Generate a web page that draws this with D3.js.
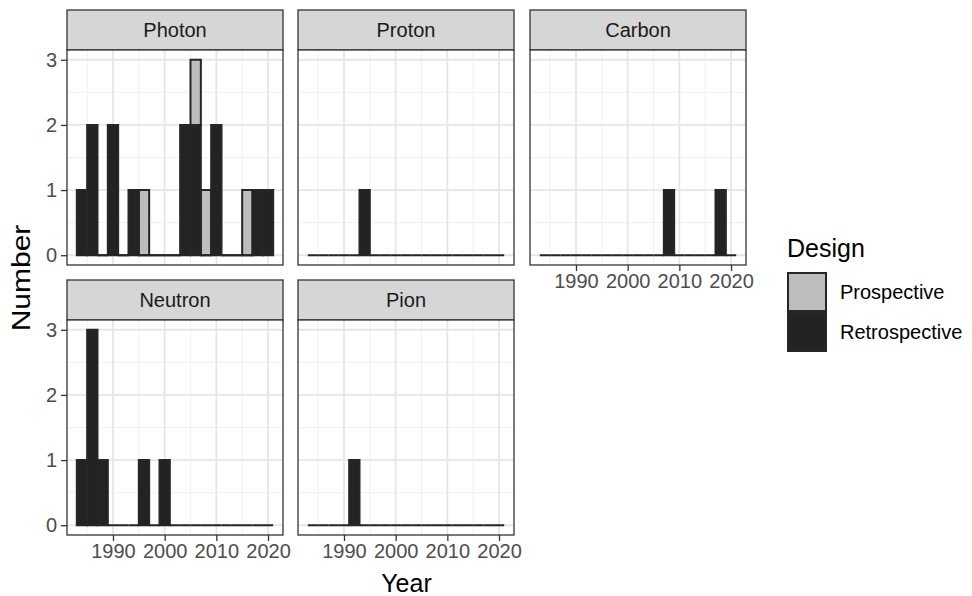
<!DOCTYPE html>
<html>
<head>
<meta charset="utf-8">
<script src="https://cdn.jsdelivr.net/npm/d3@7"></script>
<style>
  html, body { margin: 0; padding: 0; background: #ffffff; }
  svg { display: block; }
  text { font-family: "Liberation Sans", Arial, Helvetica, sans-serif; }
</style>
</head>
<body>
<svg id="chart" width="972" height="596"></svg>
<script>
// Two-year bins (left edge of each bin), shared by every facet
const binStarts = [1983, 1985, 1987, 1989, 1991, 1993, 1995, 1997, 1999, 2001,
                   2003, 2005, 2007, 2009, 2011, 2013, 2015, 2017, 2019];
const binWidth = 2;

const facets = ["Photon", "Proton", "Carbon", "Neutron", "Pion"];
const designs = ["Prospective", "Retrospective"];

// Study counts per bin, one array per facet and design
const photonRetro  = [1, 2, 0, 2, 0, 1, 0, 0, 0, 0, 2, 2, 0, 2, 0, 0, 0, 1, 1];
const photonPro    = [0, 0, 0, 0, 0, 0, 1, 0, 0, 0, 0, 1, 1, 0, 0, 0, 1, 0, 0];
const protonRetro  = [0, 0, 0, 0, 0, 1, 0, 0, 0, 0, 0, 0, 0, 0, 0, 0, 0, 0, 0];
const carbonRetro  = [0, 0, 0, 0, 0, 0, 0, 0, 0, 0, 0, 0, 1, 0, 0, 0, 0, 1, 0];
const neutronRetro = [1, 3, 1, 0, 0, 0, 1, 0, 1, 0, 0, 0, 0, 0, 0, 0, 0, 0, 0];
const pionRetro    = [0, 0, 0, 0, 1, 0, 0, 0, 0, 0, 0, 0, 0, 0, 0, 0, 0, 0, 0];

const xTicks = [1990, 2000, 2010, 2020];
const xMinor = [1985, 1995, 2005, 2015];
const yTicks = [0, 1, 2, 3];
const yMinor = [0.5, 1.5, 2.5];

const series = {
  Photon:  { Retrospective: photonRetro,  Prospective: photonPro },
  Proton:  { Retrospective: protonRetro },
  Carbon:  { Retrospective: carbonRetro },
  Neutron: { Retrospective: neutronRetro },
  Pion:    { Retrospective: pionRetro }
};

const fillColor = d3.scaleOrdinal().domain(designs).range(["#bdbdbd", "#232323"]);
const outline = "#262626";

const svg = d3.select("#chart");

// facet grid geometry
const colX = [67, 298, 530];
const rowY = [10, 280];
const panelW = 216, stripH = 40, panelH = 215;

const xMin = binStarts[0], xMax = binStarts[binStarts.length - 1] + binWidth;
const xPad = (xMax - xMin) * 0.05;
const x = d3.scaleLinear().domain([xMin - xPad, xMax + xPad]).range([0, panelW]);
const y = d3.scaleLinear().domain([-0.15, 3.15]).range([panelH, 0]);

// closed outline of a bar; stays visible as a line when the bar is empty
function barPath(d) {
  const x0 = x(d.data.start), x1 = x(d.data.start + binWidth);
  const y0 = y(d[0]), y1 = y(d[1]);
  return `M${x0},${y0}V${y1}H${x1}V${y0}Z`;
}

facets.forEach((name, i) => {
  const col = i % 3, row = Math.floor(i / 3);
  const g = svg.append("g").attr("transform", `translate(${colX[col]},${rowY[row]})`);

  // strip
  g.append("rect").attr("x", 0).attr("y", 0).attr("width", panelW).attr("height", stripH)
    .attr("fill", "#d6d6d6").attr("stroke", "#333333").attr("stroke-width", 1.3);
  g.append("text").attr("x", panelW / 2).attr("y", stripH / 2).attr("dy", "0.36em")
    .attr("text-anchor", "middle").attr("font-size", 20).attr("fill", "#1a1a1a").text(name);

  const p = g.append("g").attr("transform", `translate(0,${stripH})`);
  p.append("rect").attr("width", panelW).attr("height", panelH).attr("fill", "#ffffff");

  // grid
  p.selectAll(".gxm").data(xMinor).join("line")
    .attr("x1", d => x(d)).attr("x2", d => x(d)).attr("y1", 0).attr("y2", panelH)
    .attr("stroke", "#f0f0f0").attr("stroke-width", 1);
  p.selectAll(".gym").data(yMinor).join("line")
    .attr("y1", d => y(d)).attr("y2", d => y(d)).attr("x1", 0).attr("x2", panelW)
    .attr("stroke", "#f0f0f0").attr("stroke-width", 1);
  p.selectAll(".gx").data(xTicks).join("line")
    .attr("x1", d => x(d)).attr("x2", d => x(d)).attr("y1", 0).attr("y2", panelH)
    .attr("stroke", "#e6e6e6").attr("stroke-width", 1.8);
  p.selectAll(".gy").data(yTicks).join("line")
    .attr("y1", d => y(d)).attr("y2", d => y(d)).attr("x1", 0).attr("x2", panelW)
    .attr("stroke", "#e6e6e6").attr("stroke-width", 1.8);

  // stacked histogram: Retrospective at the bottom, Prospective on top
  const s = series[name];
  const rows = binStarts.map((b, k) => {
    const o = { start: b };
    designs.forEach(dz => { o[dz] = s[dz] ? s[dz][k] : 0; });
    return o;
  });
  const keys = designs.filter(dz => s[dz]).reverse();
  const stacked = d3.stack().keys(keys)(rows);
  // draw Prospective first, then Retrospective
  stacked.slice().reverse().forEach(layer => {
    p.append("g").selectAll("path").data(layer).join("path")
      .attr("d", barPath)
      .attr("fill", fillColor(layer.key))
      .attr("stroke", outline).attr("stroke-width", 2)
      .attr("stroke-linejoin", "miter");
  });

  p.append("rect").attr("width", panelW).attr("height", panelH).attr("fill", "none")
    .attr("stroke", "#333333").attr("stroke-width", 1.3);

  // y axis on the first column
  if (col === 0) {
    const ya = p.append("g").call(d3.axisLeft(y).tickValues(yTicks).tickSize(6).tickPadding(4).tickFormat(d3.format("d")));
    ya.select(".domain").remove();
    ya.selectAll("line").attr("stroke", "#333333").attr("stroke-width", 1.3);
    ya.selectAll("text").attr("font-size", 20).attr("fill", "#4d4d4d")
      .attr("font-family", "Liberation Sans, Arial, sans-serif");
  }
  // x axis on panels with nothing underneath
  if (row === 1 || col === 2) {
    const xa = p.append("g").attr("transform", `translate(0,${panelH})`)
      .call(d3.axisBottom(x).tickValues(xTicks).tickSize(6).tickPadding(3).tickFormat(d3.format("d")));
    xa.select(".domain").remove();
    xa.selectAll("line").attr("stroke", "#333333").attr("stroke-width", 1.3);
    xa.selectAll("text").attr("font-size", 20).attr("fill", "#4d4d4d")
      .attr("font-family", "Liberation Sans, Arial, sans-serif");
  }
});

// axis titles
svg.append("text").attr("x", (colX[0] + colX[2] + panelW) / 2).attr("y", 592)
  .attr("text-anchor", "middle").attr("font-size", 25).attr("fill", "#000").text("Year");
svg.append("text").attr("transform", `translate(30,278) rotate(-90) scale(1.2,1)`)
  .attr("text-anchor", "middle").attr("font-size", 25).attr("fill", "#000").text("Number");

// legend
const lg = svg.append("g").attr("transform", "translate(787,0)");
lg.append("text").attr("x", 0).attr("y", 257).attr("font-size", 25).attr("fill", "#000").text("Design");
designs.forEach((dz, k) => {
  const top = 272 + k * 40;
  lg.append("rect").attr("x", 1).attr("y", top + 1).attr("width", 38).attr("height", 38)
    .attr("fill", fillColor(dz)).attr("stroke", outline).attr("stroke-width", 2);
  lg.append("text").attr("x", 53).attr("y", top + 20).attr("dy", "0.36em")
    .attr("font-size", 20).attr("fill", "#000").text(dz);
});
</script>
</body>
</html>
